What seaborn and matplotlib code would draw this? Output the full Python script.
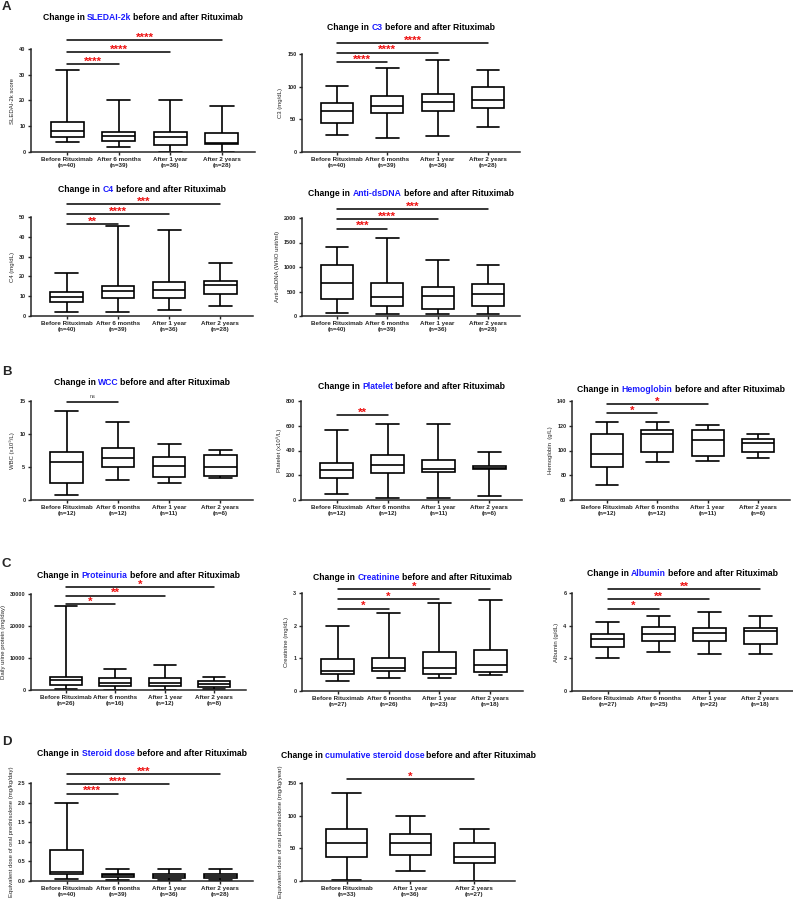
import numpy as np
import pandas as pd
import matplotlib
matplotlib.use('Agg')
import matplotlib.pyplot as plt
import matplotlib.transforms as mtransforms
from matplotlib.ticker import FormatStrFormatter
from matplotlib.offsetbox import TextArea, HPacker, AnnotationBbox
import seaborn as sns

sns.set_style('ticks')
plt.rcParams['font.family'] = ['Liberation Sans', 'DejaVu Sans']

# groups on the x axis
timepoints = ['Before Rituximab', 'After 6 months', 'After 1 year', 'After 2 years']
timepoints_cum = ['Before Rituximab', 'After 1 year', 'After 2 years']

# five-number summaries: min, q1, median, q3, max
sledai = [[4, 6, 8, 11.7, 32], [2, 4.1, 6.1, 7.8, 20], [0, 2.6, 6, 7.8, 20], [0, 3.1, 3.5, 7.4, 18]]
c3 = [[26, 45, 62.5, 75.7, 100.7], [22, 60, 71, 86, 128.6], [24.4, 62.5, 77, 89, 141], [37.6, 67.6, 80, 100, 125.6]]
c4 = [[1.9, 6.9, 9.7, 12.2, 21.9], [2, 9, 12.7, 15.4, 45.4], [2.9, 9.3, 13, 17, 43.4], [5.1, 11.2, 15.8, 17.5, 26.6]]
dsdna = [[68, 342, 664, 1034, 1411], [41, 212, 397, 664, 1596], [41, 151, 418, 596, 1137], [48, 205, 452, 651, 1034]]
wcc = [[0.7, 2.55, 5.7, 7.2, 13.5], [2.96, 4.95, 6.3, 7.9, 11.8], [2.6, 3.5, 5.2, 6.5, 8.5], [3.4, 3.6, 5.05, 6.85, 7.55]]
platelet = [[46, 177, 245, 299, 566], [19, 220, 286, 367, 612], [19, 226, 253, 327, 618], [30, 248, 256, 272, 384]]
hemoglobin = [[72, 87, 97, 113, 123], [91, 99, 113, 116.5, 123], [91.4, 95.7, 108.4, 116.5, 121], [94, 98.6, 106, 109, 113]]
proteinuria = [[200, 1660, 3000, 3940, 26200], [100, 1240, 2280, 3730, 6630], [100, 1240, 2070, 3730, 7880], [300, 930, 1760, 2800, 3940]]
creatinine = [[0.3, 0.51, 0.6, 0.98, 2.0], [0.39, 0.6, 0.69, 1.0, 2.39], [0.39, 0.51, 0.69, 1.19, 2.7], [0.49, 0.58, 0.79, 1.27, 2.8]]
albumin = [[2.05, 2.7, 3.17, 3.52, 4.2], [2.36, 3.09, 3.48, 3.92, 4.57], [2.28, 3.09, 3.58, 3.84, 4.86], [2.28, 2.86, 3.66, 3.88, 4.57]]
steroid = [[0.04, 0.17, 0.22, 0.785, 2.0], [0.03, 0.1, 0.15, 0.19, 0.3], [0.02, 0.08, 0.12, 0.17, 0.3], [0.02, 0.08, 0.12, 0.17, 0.3]]
steroid_cum = [[1, 37, 58.8, 79.6, 135], [15, 40.5, 58.8, 71.5, 98.8], [0, 26.9, 36.5, 58.8, 79.6]]

# sample sizes
n_main = [40, 39, 36, 28]
n_blood = [12, 12, 11, 6]
n_prot = [26, 16, 12, 8]
n_creat = [27, 26, 23, 18]
n_alb = [27, 25, 22, 18]
n_cum = [33, 36, 27]

# significance brackets: (from group, to group, label)
sig_sledai = [(0, 1, '****'), (0, 2, '****'), (0, 3, '****')]
sig_c3 = [(0, 1, '****'), (0, 2, '****'), (0, 3, '****')]
sig_c4 = [(0, 1, '**'), (0, 2, '****'), (0, 3, '***')]
sig_dsdna = [(0, 1, '***'), (0, 2, '****'), (0, 3, '***')]
sig_wcc = [(0, 1, 'ns')]
sig_platelet = [(0, 1, '**')]
sig_hemo = [(0, 1, '*'), (0, 2, '*')]
sig_prot = [(0, 1, '*'), (0, 2, '**'), (0, 3, '*')]
sig_creat = [(0, 1, '*'), (0, 2, '*'), (0, 3, '*')]
sig_alb = [(0, 1, '*'), (0, 2, '**'), (0, 3, '**')]
sig_steroid = [(0, 1, '****'), (0, 2, '****'), (0, 3, '***')]
sig_cum = [(0, 2, '*')]

W, H = 793, 902
fig = plt.figure(figsize=(W / 100, H / 100), dpi=100)

BLUE = '#1a1aff'
RED = '#ee1111'


def colored_title(x, y, key):
    tp = dict(fontsize=6.2, fontweight='bold')
    parts = [TextArea('Change in', textprops=dict(color='black', **tp)),
             TextArea(key, textprops=dict(color=BLUE, **tp)),
             TextArea('before and after Rituximab', textprops=dict(color='black', **tp))]
    box = HPacker(children=parts, align='baseline', pad=0, sep=1.6)
    ab = AnnotationBbox(box, (x / W, 1 - y / H), xycoords='figure fraction',
                        box_alignment=(0.5, 0.5), frameon=False, pad=0)
    fig.add_artist(ab)


def panel(px, title_y, key, vals, groups, ns, ylabel, ylim, yticks, sig, base, step, yfmt=None):
    l, r, t, b = px
    ax = fig.add_axes([l / W, 1 - b / H, (r - l) / W, (b - t) / H])
    rows = []
    for g, v in zip(groups, vals):
        for x in v:
            rows.append((g, x))
    df = pd.DataFrame(rows, columns=['group', 'value'])
    sns.boxplot(data=df, x='group', y='value', order=groups, whis=(0, 100),
                width=0.64, color='white', linecolor='black', linewidth=1.2,
                showfliers=False, capwidths=0.45, ax=ax)
    ax.set_xlim(-0.7, len(groups) - 1 + 0.64)
    ax.set_ylim(*ylim)
    ax.set_yticks(yticks)
    if yfmt:
        ax.yaxis.set_major_formatter(FormatStrFormatter(yfmt))
    ax.set_xticks(range(len(groups)))
    ax.set_xticklabels([f'{g}\n(n={k})' for g, k in zip(groups, ns)],
                       fontsize=4.5, fontweight='bold')
    for lab in ax.get_yticklabels():
        lab.set_fontsize(4)
        lab.set_fontweight('bold')
    ax.set_xlabel('')
    ax.set_ylabel(ylabel, fontsize=4.3, labelpad=3)
    sns.despine(ax=ax)
    for s in ['left', 'bottom']:
        ax.spines[s].set_linewidth(1.1)
    ax.tick_params(axis='y', length=2.5, width=1.0, pad=1.5)
    ax.tick_params(axis='x', length=2, width=1.0, pad=1.5)

    trans = mtransforms.blended_transform_factory(ax.transData, ax.transAxes)
    for k, (i, j, lab) in enumerate(sig):
        y = base + k * step
        ax.plot([i, j], [y, y], transform=trans, color='black', lw=1.1, clip_on=False)
        if lab == 'ns':
            ax.text((i + j) / 2, y + 0.03, lab, transform=trans, ha='center', va='bottom',
                    fontsize=4, color='#444444', clip_on=False)
        else:
            ax.text((i + j) / 2, y - 0.005, lab, transform=trans, ha='center', va='baseline',
                    fontsize=8.2, fontweight='bold', color=RED, clip_on=False)

    colored_title((l + r) / 2, title_y, key)
    return ax


# panel A
panel((31, 255, 49, 152), 17, 'SLEDAI-2k', sledai, timepoints, n_main, 'SLEDAI-2k score',
      (0, 40), [0, 10, 20, 30, 40], sig_sledai, 0.854, 0.117)
panel((302, 520, 54, 152), 27, 'C3', c3, timepoints, n_main, 'C3 (mg/dL)',
      (0, 150), [0, 50, 100, 150], sig_c3, 0.918, 0.097)
panel((31, 253, 217, 316), 189, 'C4', c4, timepoints, n_main, 'C4 (mg/dL)',
      (0, 50), [0, 10, 20, 30, 40, 50], sig_c4, 0.93, 0.1)
panel((302, 520, 218, 316), 194, 'Anti-dsDNA', dsdna, timepoints, n_main, 'Anti-dsDNA (WHO unit/ml)',
      (0, 2000), [0, 500, 1000, 1500, 2000], sig_dsdna, 0.89, 0.1)

# panel B
panel((31, 253, 401, 500), 382, 'WCC', wcc, timepoints, n_blood, 'WBC (x10⁹/L)',
      (0, 15), [0, 5, 10, 15], sig_wcc, 0.99, 0.1)
panel((301, 522, 401, 500), 387, 'Platelet', platelet, timepoints, n_blood, 'Platelet (x10⁹/L)',
      (0, 800), [0, 200, 400, 600, 800], sig_platelet, 0.86, 0.1)
panel((572, 790, 401, 500), 390, 'Hemoglobin', hemoglobin, timepoints, n_blood, 'Hemoglobin  (g/L)',
      (60, 140), [60, 80, 100, 120, 140], sig_hemo, 0.88, 0.09)

# panel C
panel((31, 246, 594, 690), 576, 'Proteinuria', proteinuria, timepoints, n_prot, 'Daily urine protein (mg/day)',
      (0, 30000), [0, 10000, 20000, 30000], sig_prot, 0.896, 0.088)
panel((302, 523, 593, 691), 577, 'Creatinine', creatinine, timepoints, n_creat, 'Creatinine (mg/dL)',
      (0, 3), [0, 1, 2, 3], sig_creat, 0.84, 0.1)
panel((572, 793, 593, 691), 574, 'Albumin', albumin, timepoints, n_alb, 'Albumin (g/dL)',
      (0, 6), [0, 2, 4, 6], sig_alb, 0.84, 0.1)

# panel D
panel((31, 253, 783, 881), 754, 'Steroid dose', steroid, timepoints, n_main,
      'Equivalent dose of oral prednisolone (mg/kg/day)',
      (0, 2.5), [0, 0.5, 1.0, 1.5, 2.0, 2.5], sig_steroid, 0.89, 0.1, yfmt='%.1f')
panel((302, 515, 783, 881), 755, 'cumulative steroid dose', steroid_cum, timepoints_cum, n_cum,
      'Equivalent dose of oral prednisolone (mg/kg/year)',
      (0, 150), [0, 50, 100, 150], sig_cum, 1.04, 0.1)

for letter, y in [('A', 7), ('B', 372), ('C', 564), ('D', 742)]:
    fig.text(2 / W, 1 - y / H, letter, fontsize=9.5, fontweight='bold', va='center', ha='left')

fig.savefig('out.png', dpi=100)
